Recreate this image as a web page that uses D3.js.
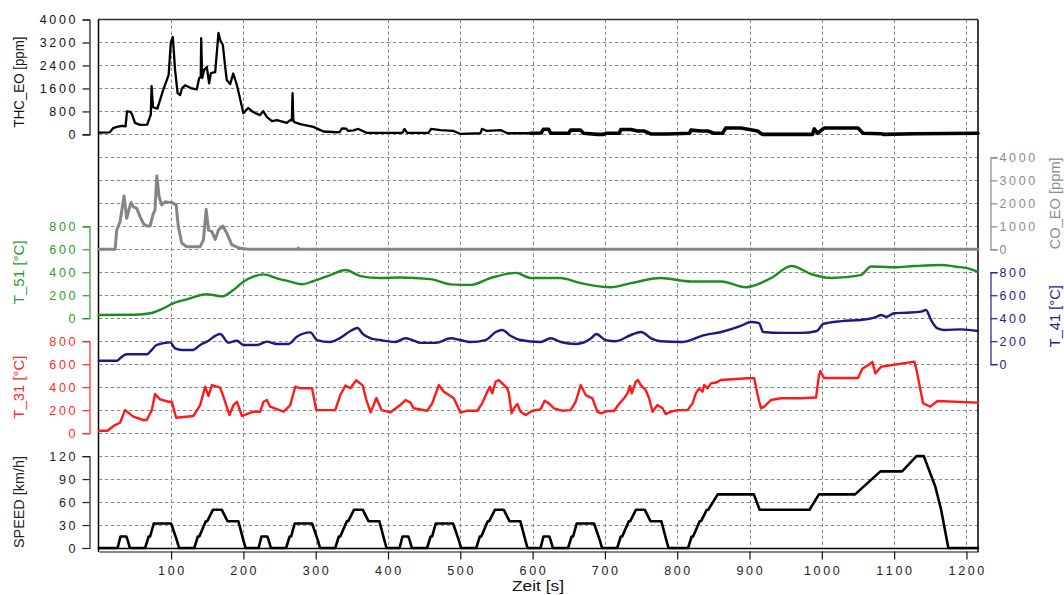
<!DOCTYPE html>
<html>
<head>
<meta charset="utf-8">
<script src="https://cdn.jsdelivr.net/npm/d3@7"></script>
<style>
  body { margin: 0; background: #fff; }
</style>
</head>
<body>
<svg id="chart" width="1064" height="595" font-family="Liberation Sans, Arial, Helvetica, sans-serif"></svg>
<script>
// ---- tick values ----
const timeTicks  = [100, 200, 300, 400, 500, 600, 700, 800, 900, 1000, 1100, 1200];
const thcTicks   = [0, 800, 1600, 2400, 3200, 4000];
const coTicks    = [0, 1000, 2000, 3000, 4000];
const t51Ticks   = [0, 200, 400, 600, 800];
const t41Ticks   = [0, 200, 400, 600, 800];
const t31Ticks   = [0, 200, 400, 600, 800];
const speedTicks = [0, 30, 60, 90, 120];

// ---- measured traces: [time s, value] ----
const thcEO = [[0,60],[15,70],[20,220],[25,260],[32,300],[37,280],[39,800],[44,780],[46,700],[50,400],[57,330],[67,340],[70,560],[72,700],[73,1680],[75,950],[81,900],[89,1540],[96.6,2070],[99.6,3200],[102.4,3390],[105.5,2240],[109,1440],[112.5,1370],[115,1600],[119.4,1710],[128.7,1600],[135.6,1570],[138.8,1960],[141,2000],[141.6,3350],[143,1960],[145.7,2240],[149.4,2350],[152.6,1780],[155,2130],[161,2170],[165.5,3530],[168,3280],[171.6,3110],[174.8,2350],[177,1890],[181.7,1750],[185.9,2120],[191,1720],[200,740],[206.6,920],[213.4,780],[223,670],[227.4,810],[232.5,600],[239.5,460],[246.4,500],[260,400],[264.8,500],[267,480],[268,1440],[269,500],[270.4,430],[278.7,360],[296.7,260],[306.4,150],[310.5,100],[329.5,75],[333,80],[336.4,210],[342,200],[345,120],[352,140],[359,190],[365,120],[371,50],[417,50],[420,60],[422.7,190],[426.5,50],[456,50],[459.7,190],[472.6,150],[490.6,120],[500.3,15],[527.9,40],[530,190],[537,120],[555.7,150],[565,40],[597,40]];
const thcEOLate = [[597,40],[612,50],[615,180],[622,180],[625,40],[650,40],[652.5,150],[666,150],[670.5,40],[689.6,0],[698,0],[702,40],[720,40],[722,170],[735.8,170],[745.5,120],[753.8,120],[763.4,15],[787,15],[817,40],[819,150],[832.7,120],[842,120],[851,40],[862.7,40],[867,220],[888,220],[911,120],[918,0],[987,0],[989.6,190],[994,40],[1003,220],[1050,220],[1057,40],[1082,20],[1086,0],[1128,20],[1216,40]];

const coEO = [[0,0],[22.6,0],[24.8,840],[29.4,1200],[34.9,2320],[38.6,1350],[40.9,1640],[44.6,2030],[47.8,1850],[52.5,1780],[57,1420],[62,1100],[66.3,1010],[70.9,1010],[75.5,1570],[77.8,1710],[80.2,3190],[83.4,2290],[87.1,1930],[91.7,2070],[101,2030],[107,1930],[110,980],[114.8,260],[121.7,110],[140,110],[144.7,400],[148.5,1740],[151.7,840],[156.4,770],[161,430],[165.5,840],[171.6,1010],[177,700],[184,190],[195.6,40],[206.6,0],[274,0],[276,50],[278,0],[1216,0]];

const t51 = [[0,28],[50,30],[71,43],[89.3,86],[102.8,130],[121.7,164],[149.4,208],[160,200],[170.2,190],[185.9,245],[200,318],[213.6,361],[227.8,382],[246.4,347],[264.8,318],[281,295],[297,324],[320,375],[341,420],[362,367],[389,350],[417,355],[459,340],[486,295],[514,290],[542,350],[577,395],[597,350],[638,350],[667,305],[708,270],[736,305],[777,350],[819,320],[861,320],[895,270],[930,350],[958,455],[985,385],[1013,350],[1054,375],[1068,450],[1082,448],[1100,443],[1128,454],[1165,463],[1186,448],[1202,434],[1216,405]];

const t41 = [[0,30],[25.2,30],[29.4,51],[38.6,86],[55,86],[66.8,86],[70.9,109],[80.2,167],[98.6,190],[105.5,138],[115,124],[130.5,124],[140.2,167],[149.4,196],[167.9,263],[179.4,187],[191,204],[200,167],[218.7,167],[232.5,196],[246.4,176],[262.5,176],[274,239],[292.5,277],[301.8,210],[320,193],[334,229],[348,289],[358,315],[365,263],[376,225],[389,210],[410,193],[424,225],[434,210],[445,185],[466,185],[487,225],[500,210],[514,193],[535,210],[549,280],[558,298],[570,245],[583,210],[611,193],[625,225],[639,193],[660,176],[681,225],[688,263],[701,210],[715,200],[736,254],[750,280],[764,225],[777,200],[805,193],[819,210],[833,245],[861,280],[888,333],[902,367],[913,358],[919,280],[945,272],[972,272],[993,289],[1002,350],[1027,375],[1054,385],[1075,410],[1082,428],[1089,413],[1100,443],[1118,448],[1137,457],[1144,472],[1151,385],[1160,312],[1170,298],[1193,303],[1216,289]];

const t31 = [[0,21],[12,21],[22.4,70],[29.4,90],[36.3,200],[47.8,143],[61.6,114],[66.3,114],[73.3,200],[77.8,340],[84.8,294],[96.3,273],[101,273],[107,134],[130.9,149],[140.2,244],[147.1,404],[151.7,323],[156.4,418],[167.9,395],[172.4,317],[180.7,157],[186.3,244],[191,273],[198,149],[214,186],[223.3,186],[227.8,273],[232.5,288],[237,230],[255.5,186],[264.8,244],[271.7,404],[278.7,390],[294.9,390],[300.8,200],[327,200],[334,330],[341,415],[348,390],[356,460],[365,415],[370,290],[376,180],[384,305],[391,200],[403,180],[417,244],[424.1,288],[431,265],[435.6,216],[454.2,195],[461.1,259],[470.2,418],[477.2,360],[486.4,323],[491,303],[500.3,178],[509.6,195],[523.4,195],[530.3,259],[537.3,360],[540.9,404],[544.2,346],[548.8,447],[553.3,462],[558,433],[565,390],[567.2,346],[570.9,172],[574.1,216],[578.8,253],[583.4,186],[590.3,157],[599.6,195],[611.1,207],[616.6,282],[622.6,259],[629.5,216],[641.1,195],[652.6,200],[659.6,273],[666.5,418],[673.4,331],[682.7,303],[689.6,186],[694.2,172],[703.5,192],[712.6,192],[719.5,253],[726.5,303],[731.2,346],[734.8,410],[737.1,346],[742.7,447],[745.8,462],[749.6,418],[756.5,375],[761.1,303],[765.8,186],[772.7,244],[779.6,216],[784.2,166],[791.1,186],[800.4,200],[814.3,200],[821.2,259],[825.8,346],[830.3,390],[835,360],[837.3,418],[842,390],[846.5,433],[853.5,440],[860.4,462],[897.4,477],[906.5,477],[911.2,331],[915.8,216],[920.4,230],[929.6,288],[943.5,303],[971.2,303],[992,310],[996,500],[998,540],[1003,480],[1050,480],[1056,560],[1066,600],[1070,620],[1074,520],[1082,578],[1128,622],[1131,549],[1140,260],[1150,230],[1160,280],[1216,265]];

const speed = [[0,0],[26,0],[30,15],[38,15],[40,10],[43,0],[64,0],[69,15],[71,15],[76,32],[100,32],[108,10],[111,0],[132,0],[137,15],[139,15],[148,35],[150,35],[158,50],[170,50],[178,35],[193,35],[200,10],[203,0],
  [221,0],[225,15],[233,15],[235,10],[238,0],[259,0],[264,15],[266,15],[271,32],[295,32],[303,10],[306,0],[327,0],[332,15],[334,15],[343,35],[345,35],[353,50],[365,50],[373,35],[388,35],[395,10],[398,0],
  [416,0],[420,15],[428,15],[430,10],[433,0],[454,0],[459,15],[461,15],[466,32],[490,32],[498,10],[501,0],[522,0],[527,15],[529,15],[538,35],[540,35],[548,50],[560,50],[568,35],[583,35],[590,10],[593,0],
  [611,0],[615,15],[623,15],[625,10],[628,0],[649,0],[654,15],[656,15],[661,32],[685,32],[693,10],[696,0],[717,0],[722,15],[724,15],[733,35],[735,35],[743,50],[755,50],[763,35],[778,35],[785,10],[788,0],
  [815,0],[820,15],[822,15],[831,35],[833,35],[841,50],[843,50],[856,70],[906,70],[914,50],[983,50],[996,70],[1046,70],[1081,100],[1111,100],[1131,120],[1141,120],[1157,80],[1165,50],[1175,0],[1216,0]];

// ---- layout ----
const svg = d3.select("#chart");
const FONT = "Liberation Sans, Arial, Helvetica, sans-serif";
const plotLeft = 98.8, plotRight = 978;
const gridTop = 19.5, gridBottom = 548, gridRows = 23;
const rowY = i => gridTop + (gridBottom - gridTop) * i / gridRows;
const x = d3.scaleLinear().domain([0, 1216]).range([plotLeft, plotRight]);

const panels = [
  { id: "thc", ticks: thcTicks,   max: 4000, top: 0,  zero: 5,  side: "left",  title: "THC_EO [ppm]", titleLen: 91, ink: "#111",    shift: 5 },
  { id: "co",  ticks: coTicks,    max: 4000, top: 6,  zero: 10, side: "right", title: "CO_EO [ppm]",  titleLen: 92, ink: "#8c8c8c", shift: 0 },
  { id: "t51", ticks: t51Ticks,   max: 800,  top: 9,  zero: 13, side: "left",  title: "T_51 [°C]",    titleLen: 64, ink: "#2f9a2f", shift: 0 },
  { id: "t41", ticks: t41Ticks,   max: 800,  top: 11, zero: 15, side: "right", title: "T_41 [°C]",    titleLen: 62, ink: "#23238a", shift: -2 },
  { id: "t31", ticks: t31Ticks,   max: 800,  top: 14, zero: 18, side: "left",  title: "T_31 [°C]",    titleLen: 63, ink: "#ff2a2a", shift: 0 },
  { id: "spd", ticks: speedTicks, max: 120,  top: 19, zero: 23, side: "left",  title: "SPEED [km/h]", titleLen: 92, ink: "#222",    shift: 0 }
];
panels.forEach(p => {
  p.y = d3.scaleLinear().domain([0, p.max]).range([rowY(p.zero), rowY(p.top)]);
});
const P = Object.fromEntries(panels.map(p => [p.id, p]));

// wide-set numerals: every digit sits on a fixed pitch
const PITCH = 9.6, GLYPH = 7;
function numeral(g, tx, ty, value, anchor, ink) {
  const s = String(value), n = s.length;
  let first;                                 // centre of the first digit
  if (anchor === "end") first = tx - GLYPH / 2 - (n - 1) * PITCH;
  else if (anchor === "start") first = tx + GLYPH / 2;
  else first = tx - (n - 1) * PITCH / 2;
  const t = g.append("text")
    .attr("y", ty).attr("font-family", FONT).attr("font-size", 12.5)
    .attr("text-anchor", "middle").attr("fill", ink);
  s.split("").forEach((ch, i) => t.append("tspan").attr("x", first + i * PITCH).text(ch));
  return t;
}

// ---- grid ----
const grid = svg.append("g").attr("stroke", "#8a8a8a").attr("stroke-width", 1).attr("stroke-dasharray", "3.5,2.5");
grid.selectAll("line.h").data(d3.range(1, gridRows)).join("line")
  .attr("x1", plotLeft).attr("x2", plotRight)
  .attr("y1", d => Math.round(rowY(d)) + 0.5).attr("y2", d => Math.round(rowY(d)) + 0.5);
grid.selectAll("line.v").data(timeTicks).join("line")
  .attr("x1", d => Math.round(x(d)) + 0.5).attr("x2", d => Math.round(x(d)) + 0.5)
  .attr("y1", gridTop).attr("y2", gridBottom);

// ---- frame ----
const frame = svg.append("g").attr("fill", "none");
frame.append("line").attr("x1", 98).attr("x2", plotRight).attr("y1", gridTop).attr("y2", gridTop).attr("stroke", "#333").attr("stroke-width", 1.3);
frame.append("line").attr("x1", 98.5).attr("x2", 98.5).attr("y1", gridTop).attr("y2", 552).attr("stroke", "#000").attr("stroke-width", 1.5);
frame.append("line").attr("x1", plotRight).attr("x2", plotRight).attr("y1", gridTop).attr("y2", 552).attr("stroke", "#000").attr("stroke-width", 1.5);
frame.append("line").attr("x1", 98).attr("x2", plotRight).attr("y1", 548.5).attr("y2", 548.5).attr("stroke", "#000").attr("stroke-width", 1.3);

// ---- traces ----
function trace(data, panel, color, width, curve) {
  const line = d3.line().x(d => x(d[0])).y(d => panel.y(d[1])).curve(curve || d3.curveLinear);
  svg.append("path").datum(data).attr("d", line)
    .attr("fill", "none").attr("stroke", color).attr("stroke-width", width)
    .attr("stroke-linejoin", "round").attr("stroke-linecap", "round");
}
trace(coEO, P.co, "#858585", 3);
trace(t51, P.t51, "#1f8c1f", 2.4, d3.curveMonotoneX);
trace(t41, P.t41, "#1a1a82", 2.4, d3.curveMonotoneX);
trace(t31, P.t31, "#ff1a1a", 2.4);
trace(thcEO, P.thc, "#000", 2.3);
trace(thcEOLate, P.thc, "#000", 3.6);
trace(speed, P.spd, "#000", 2.6);

// ---- value axes (bracket + ticks from d3, numerals set on a fixed pitch) ----
panels.forEach(p => {
  const left = p.side === "left";
  const ax = left ? 89.5 : 990.5;
  const axis = (left ? d3.axisLeft(p.y) : d3.axisRight(p.y))
    .tickValues(p.ticks).tickSize(7).tickSizeOuter(7).tickFormat("");
  const g = svg.append("g").attr("transform", `translate(${ax},0)`).call(axis);
  g.select(".domain").attr("stroke", p.ink).attr("stroke-width", 1.2).attr("fill", "none");
  g.selectAll(".tick line").attr("stroke", p.ink).attr("stroke-width", 1.2);
  g.selectAll(".tick text").remove();
  const labels = svg.append("g");
  p.ticks.forEach(v => {
    numeral(labels, left ? 75.5 : 999.5, p.y(v) + 4.5, v, left ? "end" : "start", p.ink);
  });
  const cy = (p.y.range()[0] + p.y.range()[1]) / 2 + p.shift;
  svg.append("text")
    .attr("transform", `translate(${left ? 19 : 1055},${cy}) rotate(-90)`)
    .attr("text-anchor", "middle").attr("dominant-baseline", "central")
    .attr("font-family", FONT).attr("font-size", 14)
    .attr("fill", p.ink)
    .attr("textLength", p.titleLen).attr("lengthAdjust", "spacingAndGlyphs")
    .text(p.title);
});

// ---- time axis ----
const xAxis = d3.axisBottom(x).tickValues(timeTicks).tickSize(8).tickSizeOuter(0).tickFormat("");
const gx = svg.append("g").attr("transform", "translate(0,551.5)").call(xAxis);
gx.select(".domain").attr("stroke", "#111").attr("stroke-width", 1.2);
gx.selectAll(".tick line").attr("stroke", "#111").attr("stroke-width", 1.2);
gx.selectAll(".tick text").remove();
const xl = svg.append("g");
timeTicks.forEach(v => numeral(xl, x(v), 575, v, "middle", "#222"));
svg.append("text").attr("x", 538).attr("y", 591).attr("text-anchor", "middle")
  .attr("font-family", FONT).attr("font-size", 14).attr("fill", "#111")
  .attr("textLength", 52).attr("lengthAdjust", "spacingAndGlyphs").text("Zeit [s]");
</script>
</body>
</html>
